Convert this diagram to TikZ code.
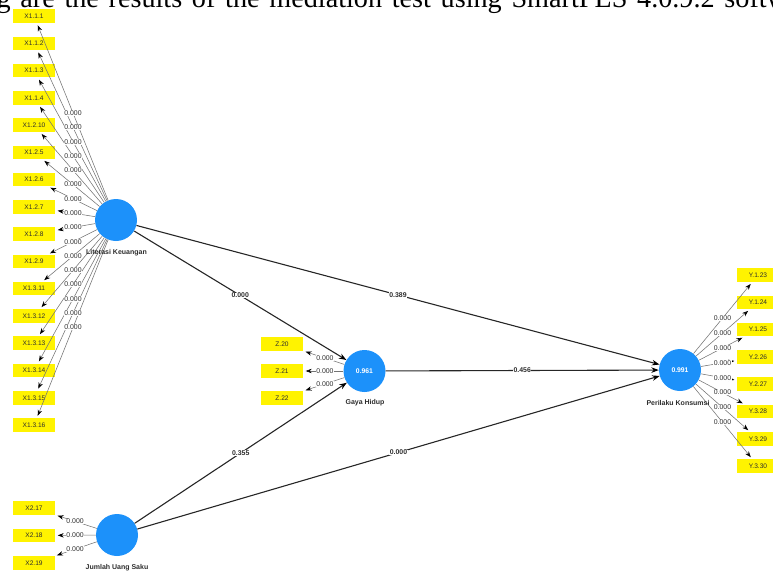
\documentclass[tikz,border=0pt]{standalone}
\usepackage{fontspec}
\setmainfont{Liberation Sans}
\newfontfamily\docfont{Liberation Serif}
\usetikzlibrary{arrows.meta,calc}
\definecolor{indyellow}{RGB}{255,243,0}
\definecolor{lvblue}{RGB}{28,145,250}
\definecolor{txtgray}{RGB}{45,45,45}
\begin{document}
\begin{tikzpicture}[x=1pt,y=-1pt,
  ind/.style={fill=indyellow, minimum width=42pt, minimum height=13.5pt, inner sep=0pt,
    font=\fontsize{6.6}{7}\selectfont, text=txtgray},
  lv/.style={circle, fill=lvblue, minimum size=42pt, inner sep=0pt,
    font=\fontsize{6.8}{7}\selectfont\bfseries, text=white},
  lvname/.style={font=\fontsize{7}{8}\selectfont\bfseries, text=txtgray, inner sep=0pt},
  outerln/.style={draw=black!55, line width=0.55pt, -{Stealth[length=6pt,width=4.4pt,color=black]}, shorten >=2.5pt},
  wt/.style={fill=white, inner sep=0.4pt, font=\fontsize{6.9}{7}\selectfont, text=txtgray},
  pathln/.style={draw=black!85, line width=1.1pt, -{Stealth[length=7.5pt,width=5.5pt,color=black]}},
  pwt/.style={fill=white, inner sep=0.4pt, font=\fontsize{6.9}{7}\selectfont\bfseries, text=txtgray},
  doctext/.style={anchor=base west, inner sep=0pt, font={\docfont\fontsize{28.2}{30}\selectfont\spaceskip=9.7pt\relax}}
]
\useasboundingbox (0,0) rectangle (773,570);
\clip (0,0) rectangle (773,570);

% document text clipped at top
\node[doctext] (doc) at (-3.6,7) {g are the results of the mediation test using SmartPLS 4.0.9.2 softw};

% latent variables
\node[lv] (LK) at (116,220) {};
\node[lv] (GH) at (364.5,371) {0.961};
\node[lv] (PK) at (680,370) {0.991};
\node[lv] (JUS) at (117,535) {};

% indicators
\foreach \n [count=\i from 0] in {X1.1.1,X1.1.2,X1.1.3,X1.1.4,X1.2.10,X1.2.5,X1.2.6,X1.2.7,X1.2.8,X1.2.9,X1.3.11,X1.3.12,X1.3.13,X1.3.14,X1.3.15,X1.3.16}
  \node[ind] (x\i) at (34,16+27.27*\i) {\n};
\foreach \n [count=\i from 0] in {Y.1.23,Y.1.24,Y.1.25,Y.2.26,Y.2.27,Y.3.28,Y.3.29,Y.3.30}
  \node[ind] (y\i) at (758,275+27.3*\i) {\n};
\foreach \n [count=\i from 0] in {Z.20,Z.21,Z.22}
  \node[ind] (z\i) at (282,344+27*\i) {\n};
\foreach \n [count=\i from 0] in {X2.17,X2.18,X2.19}
  \node[ind] (w\i) at (34,508+27.5*\i) {\n};

% outer loadings lines
\foreach \i in {0,...,15} \draw[outerln] (LK) -- (x\i);
\foreach \i in {0,...,7} \draw[outerln] (PK) -- (y\i);
\foreach \i in {0,...,2} \draw[outerln] (GH) -- (z\i);
\foreach \i in {0,...,2} \draw[outerln] (JUS) -- (w\i);

% latent variable names
\node[lvname] (LKn) at (116.5,253) {Literasi Keuangan};
\node[lvname] (GHn) at (365,403) {Gaya Hidup};
\node[lvname] (PKn) at (678,403) {Perilaku Konsumsi};
\node[lvname] (JUSn) at (117,568) {Jumlah Uang Saku};

% outer loading labels
\foreach \i in {0,...,15} \node[wt] at ($(LK)!0.524!(x\i)$) {0.000};
\foreach \i in {0,...,7} \node[wt] at ($(PK)!0.545!(y\i)$) {0.000};
\foreach \i in {0,...,2} \node[wt] at ($(GH)!0.48!(z\i)$) {0.000};
\foreach \i in {0,...,2} \node[wt] at ($(JUS)!0.505!(w\i)$) {0.000};

% structural paths
\draw[pathln] (LK) -- (GH);
\draw[pathln] (LK) -- (PK);
\draw[pathln] (GH) -- (PK);
\draw[pathln] (JUS) -- (GH);
\draw[pathln] (JUS) -- (PK);
\node[pwt] at ($(LK)!0.5!(GH)$) {0.000};
\node[pwt] at ($(LK)!0.5!(PK)$) {0.389};
\node[pwt] at ($(GH)!0.5!(PK)$) {0.456};
\node[pwt] at ($(JUS)!0.5!(GH)$) {0.355};
\node[pwt] at ($(JUS)!0.5!(PK)$) {0.000};
\end{tikzpicture}
\end{document}
